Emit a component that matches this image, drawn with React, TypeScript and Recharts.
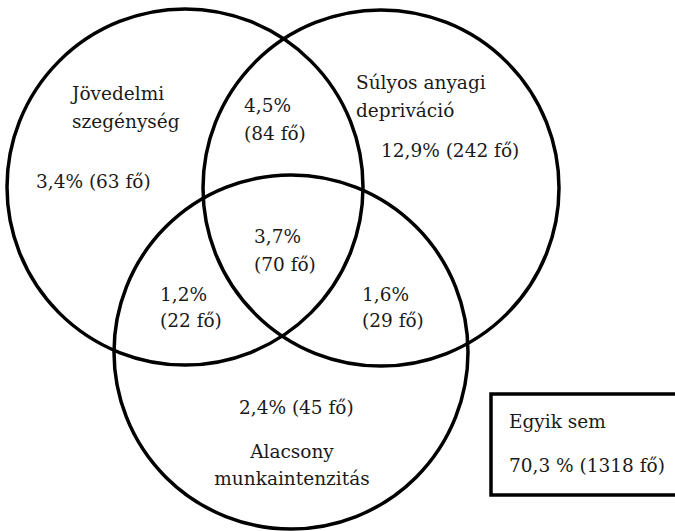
import React from 'react';
import { ScatterChart, Scatter, XAxis, YAxis, ReferenceArea } from 'recharts';

// ---------- data ----------
const setNameLines: string[][] = [
  ['Jövedelmi', 'szegénység'],
  ['Súlyos anyagi', 'depriváció'],
  ['Alacsony', 'munkaintenzitás'],
];
// regions: A only, A∩B, B only, A∩C, A∩B∩C, B∩C, C only
const regionKeys = ['A', 'AB', 'B', 'AC', 'ABC', 'BC', 'C'];
const regionPercent = [3.4, 4.5, 12.9, 1.2, 3.7, 1.6, 2.4];
const regionCount = [63, 84, 242, 22, 70, 29, 45];
const noneLabel = 'Egyik sem';
const nonePercent = 70.3;
const noneCount = 1318;

// ---------- layout ----------
const W = 675;
const H = 531;
const circleLayout = [
  { x: 185, y: 187, r: 178 },
  { x: 381, y: 188, r: 178 },
  { x: 291, y: 352, r: 177 },
];
const setNameLayout = [
  { x: 72, y: [100, 128], anchor: 'start' },
  { x: 356, y: [89, 117], anchor: 'start' },
  { x: 292, y: [458, 485], anchor: 'middle' },
];
const regionLayout = [
  { x: 36, y: [188] },
  { x: 244, y: [112, 140] },
  { x: 381, y: [157] },
  { x: 160, y: [301, 327] },
  { x: 254, y: [243, 271] },
  { x: 362, y: [301, 327] },
  { x: 239, y: [414] },
];
const boxLayout = { x1: 491, x2: 690, y1: 394, y2: 495, tx: 509, ty: [428, 472] };

const fmt = (v: number) => v.toFixed(1).replace('.', ',');

const circles = circleLayout.map((c, i) => ({ ...c, id: i }));

type Lbl = { x: number; y: number; text: string; anchor: string };
const labels: Lbl[] = [];
setNameLines.forEach((lines, i) => {
  lines.forEach((t, j) =>
    labels.push({ x: setNameLayout[i].x, y: setNameLayout[i].y[j], text: t, anchor: setNameLayout[i].anchor })
  );
});
regionKeys.forEach((k, i) => {
  const p = `${fmt(regionPercent[i])}%`;
  const c = `(${regionCount[i]} fő)`;
  const lay = regionLayout[i];
  if (lay.y.length === 1) {
    labels.push({ x: lay.x, y: lay.y[0], text: `${p} ${c}`, anchor: 'start' });
  } else {
    labels.push({ x: lay.x, y: lay.y[0], text: p, anchor: 'start' });
    labels.push({ x: lay.x, y: lay.y[1], text: c, anchor: 'start' });
  }
});
const boxLabels: Lbl[] = [
  { x: boxLayout.tx, y: boxLayout.ty[0], text: noneLabel, anchor: 'start' },
  { x: boxLayout.tx, y: boxLayout.ty[1], text: `${fmt(nonePercent)} % (${noneCount} fő)`, anchor: 'start' },
];

const FONT = '"DejaVu Serif", serif';
const FS = 18.5;
const TEXT_COLOR = '#1a1a1a';

const CircleShape = (props: any) => {
  const { cx, cy, payload } = props;
  return <circle cx={cx} cy={cy} r={payload.r} fill="none" stroke="#000" strokeWidth={3.5} />;
};

const TextShape = (props: any) => {
  const { cx, cy, payload } = props;
  return (
    <text x={cx} y={cy} textAnchor={payload.anchor} fontFamily={FONT} fontSize={FS} fill={TEXT_COLOR}>
      {payload.text}
    </text>
  );
};

export default function App() {
  return (
    <div style={{ position: 'absolute', left: 0, top: 0, width: W, height: H, background: '#fff' }}>
      <ScatterChart width={W} height={H} margin={{ top: 0, right: 0, bottom: 0, left: 0 }}>
        <XAxis type="number" dataKey="x" domain={[0, W]} hide allowDataOverflow />
        <YAxis type="number" dataKey="y" domain={[0, H]} reversed hide allowDataOverflow />
        <Scatter data={circles} shape={CircleShape} isAnimationActive={false} />
        <Scatter data={labels} shape={TextShape} isAnimationActive={false} />
        <ReferenceArea
          x1={boxLayout.x1}
          x2={boxLayout.x2}
          y1={boxLayout.y1}
          y2={boxLayout.y2}
          fill="none"
          fillOpacity={0}
          stroke="#000"
          strokeWidth={3.5}
          ifOverflow="visible"
        />
        <Scatter data={boxLabels} shape={TextShape} isAnimationActive={false} />
      </ScatterChart>
    </div>
  );
}
